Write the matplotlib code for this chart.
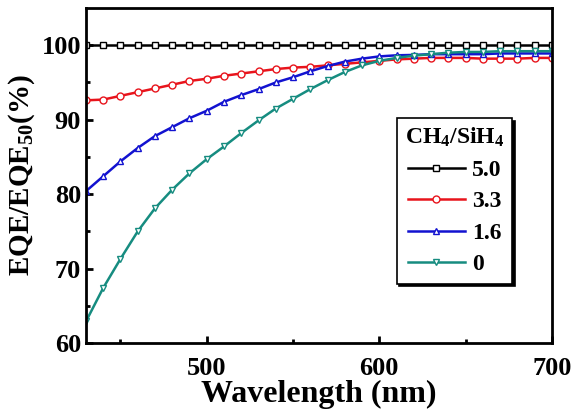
import numpy as np
import matplotlib
matplotlib.use("Agg")
import matplotlib.pyplot as plt

plt.rcParams['font.family'] = ['Liberation Serif', 'DejaVu Serif']
plt.rcParams['font.weight'] = 'bold'
plt.rcParams['mathtext.fontset'] = 'custom'
plt.rcParams['mathtext.rm'] = 'Liberation Serif:bold'
plt.rcParams['mathtext.bf'] = 'Liberation Serif:bold'
plt.rcParams['mathtext.default'] = 'bf'

# wavelength (nm)
wavelength = np.arange(430, 701, 10)

# EQE / EQE50 (%) for each CH4/SiH4 ratio
eqe_50 = [100.0] * len(wavelength)
eqe_33 = [92.6, 92.7, 93.2, 93.7, 94.2, 94.7, 95.2, 95.5, 95.9, 96.2,
          96.5, 96.8, 97.0, 97.1, 97.3, 97.5, 97.7, 97.9, 98.1, 98.2,
          98.3, 98.3, 98.3, 98.2, 98.2, 98.2, 98.3, 98.3]
eqe_16 = [80.4, 82.4, 84.4, 86.2, 87.8, 89.0, 90.2, 91.2, 92.4, 93.3,
          94.1, 95.0, 95.7, 96.5, 97.2, 97.8, 98.2, 98.5, 98.65, 98.7,
          98.8, 98.8, 98.8, 98.8, 98.9, 98.9, 98.9, 98.9]
eqe_0 = [62.9, 67.4, 71.3, 75.0, 78.1, 80.6, 82.8, 84.7, 86.4, 88.2,
         89.9, 91.5, 92.8, 94.1, 95.3, 96.4, 97.3, 97.9, 98.3, 98.6,
         98.8, 99.0, 99.1, 99.1, 99.2, 99.2, 99.2, 99.2]

labels = ['5.0', '3.3', '1.6', '0']
colors = ['black', '#e8141c', '#1212d0', '#168c80']
markers = ['s', 'o', '^', 'v']
series = [eqe_50, eqe_33, eqe_16, eqe_0]

fig = plt.figure(figsize=(5.79, 4.12), dpi=100)
ax = fig.add_axes([0.1485, 0.1675, 0.8045, 0.813])

for vals, lab, c, m in zip(series, labels, colors, markers):
    ax.plot(wavelength, vals, color=c, lw=1.8, marker=m, ms=5,
            mfc='white', mec=c, mew=1.0, label=lab)

ax.set_xlim(430, 700)
ax.set_ylim(60, 105)
ax.set_xticks([500, 600, 700])
ax.set_xticks([450, 550, 650], minor=True)
ax.set_yticks([60, 70, 80, 90, 100])
ax.set_yticks([65, 75, 85, 95], minor=True)
ax.tick_params(which='both', direction='in', top=False, right=False,
               labelsize=19, width=2)
ax.tick_params(which='major', length=5)
ax.tick_params(which='minor', length=3)
ax.tick_params(axis='x', which='both', pad=10)
for sp in ax.spines.values():
    sp.set_linewidth(2)

ax.set_xlabel('Wavelength (nm)', fontsize=23, fontweight='bold', labelpad=0)
ax.set_ylabel('EQE/EQE$_{50}$(%)', fontsize=21, fontweight='bold', labelpad=3)

leg = ax.legend(title='CH$_4$/SiH$_4$', loc='upper left',
                bbox_to_anchor=(0.667, 0.672), borderaxespad=0,
                fontsize=17, title_fontsize=17, handlelength=2.4,
                fancybox=False, edgecolor='black', framealpha=1,
                shadow={'color': 'black', 'alpha': 1},
                labelspacing=0.42, handletextpad=0.3, borderpad=0.35)
leg.get_frame().set_linewidth(1.2)

fig.savefig('out.png', dpi=100)
